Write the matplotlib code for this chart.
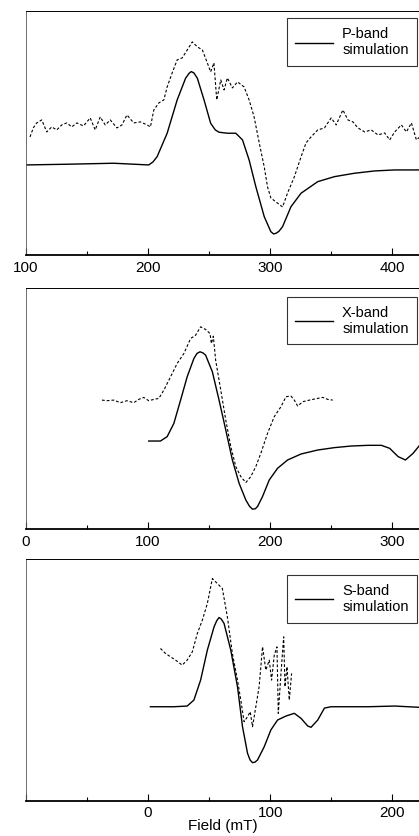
import matplotlib
matplotlib.use("Agg")
import matplotlib.pyplot as plt
from matplotlib.ticker import MultipleLocator, FuncFormatter

plt.rcParams["font.family"] = ["Liberation Sans", "DejaVu Sans"]

# P-band (field in mT, intensity in arbitrary units)
p_sim_field = [100.0, 133.4, 171.8, 200.5, 204, 207.4, 215.6, 223.8, 230.7, 233.5, 235.3, 237.5,
               240.3, 245.8, 251.2, 255, 258.1, 264.9, 271.8, 277.3, 282.7, 288.2, 295.1, 300.5,
               302.8, 304.7, 307, 310.1, 317.0, 325.2, 338.9, 352.6, 369.0, 385.5, 401.9, 422.5]
p_sim_int = [90, 90.7, 91.7, 90, 93, 98.3, 121.7, 155, 176.7, 181.5, 183.3, 182,
             176.7, 155, 131.7, 125, 122.7, 121.7, 121.7, 115, 95, 68.3, 38.3, 23.3,
             21, 21.7, 23.5, 28.3, 48.3, 61.7, 73.3, 78.3, 81.7, 84, 85, 85]
p_exp_field = [103.3, 106, 108.8, 112.9, 117, 121.1, 125.2, 129.3, 133.4, 137.5, 141.6, 147.1,
               152.6, 156.7, 160.8, 164.9, 169, 174.5, 178.6, 182.7, 188.2, 193.7, 199.2, 201.9,
               204.7, 208.8, 212.9, 215.6, 219.7, 223.8, 227.9, 232.1, 236.2, 240.3, 244.4, 248.5,
               251.2, 253.9, 256.2, 259.5, 262.2, 264.9, 269, 273.2, 278.6, 282.7, 286.8, 291,
               295.1, 297.8, 300.5, 304.7, 310.1, 314.2, 319.7, 325.2, 329.3, 333.4, 338.9, 344.4,
               349.9, 354, 359.5, 363.6, 367.7, 371.8, 377.3, 382.7, 388.2, 393.7, 397.8, 401.9,
               407.4, 411.5, 415.6, 419.7, 422.5]
p_exp_int = [118, 127, 132, 135, 123, 128, 125, 130, 132, 128, 132, 129,
             137, 125, 138, 130, 135, 127, 130, 140, 132, 133, 130, 128,
             145, 152, 155, 168, 182, 195, 197, 205, 213, 208, 205, 192,
             183, 192, 155, 175, 165, 177, 167, 173, 168, 155, 138, 112,
             88, 68, 57, 53, 48, 62, 78, 98, 112, 118, 125, 127,
             137, 130, 145, 135, 133, 127, 123, 125, 120, 122, 115, 123,
             130, 123, 132, 115, 118]

# X-band
x_sim_field = [100.5, 110.1, 115.6, 121.1, 126.6, 132, 137.5, 140, 142.5, 145, 147.1, 152.6,
               158.1, 163.6, 169, 174.5, 180, 183, 185.5, 187.8, 189.6, 193.7, 199.2, 206,
               214.2, 225.2, 238.9, 252.6, 266.3, 280, 291, 297.8, 304.7, 310.7, 317, 322.5]
x_sim_int = [88.3, 88.3, 92.7, 106, 129.3, 152.7, 171, 176, 177.7, 176.5, 174.3, 157.7,
             129.3, 99.3, 69.3, 46, 29.3, 23, 20, 20.5, 22.7, 32.7, 49.3, 61,
             69.3, 75.3, 79.3, 81.7, 83.3, 84, 84, 81, 72.7, 69.3, 76, 84.3]
x_exp_field = [62.2, 66.3, 71.8, 77.3, 82.7, 88.2, 92.3, 96.4, 100.5, 104.7, 108.8, 112.9,
               118.4, 123.8, 129.3, 134.8, 138.9, 143, 147.1, 150.7, 151.8, 153.4, 155.3, 159.5,
               163.6, 167.7, 171.8, 175.9, 180, 184.1, 188.2, 192.3, 197.8, 203.3, 208.8, 212.9,
               217, 219.7, 222.5, 226.6, 232.1, 237.5, 243, 247.1, 251.2]
x_exp_int = [129.3, 128.7, 129.3, 126.7, 128.7, 126.7, 130, 132, 128.7, 130, 131, 139.3,
             152.7, 166, 176, 191, 194.3, 202.7, 200, 196, 186, 193.3, 169.3, 139.3,
             109.3, 82.7, 62.7, 52.7, 46.7, 52.7, 62.7, 76, 96, 112.7, 122.7, 132.7,
             133.3, 129.3, 123.3, 127.7, 129.3, 130.7, 132, 130, 129.3]

# S-band
s_sim_field = [1.9, 10.1, 21.1, 32, 37.5, 43, 48.5, 54, 56.2, 58.1, 60, 62.2,
               67.7, 73.2, 77.3, 81.4, 83.5, 85.5, 87.5, 89.6, 95.1, 100.5, 106, 112.9,
               119.7, 125.2, 130.7, 133.4, 138.9, 144.4, 149.9, 166.3, 180, 201.9, 222.5]
s_sim_int = [94.3, 94.3, 94.3, 95, 101, 121, 151, 174.3, 180.5, 183.7, 182, 177.7,
             151, 114.3, 74.3, 47.7, 41, 38.3, 38.8, 41, 54.3, 71, 81, 85,
             87.7, 82.7, 75, 73.7, 81, 93, 94.3, 94.3, 94.3, 95, 93.7]
s_exp_field = [10.1, 14.2, 18.4, 22.5, 27.9, 32, 36.2, 40.3, 44.4, 48.5, 52.6, 56.7,
               60.8, 64.9, 69, 73.2, 75.9, 78.6, 81.4, 83.6, 85.5, 88.2, 90.9, 93.7,
               96.4, 99.2, 101.1, 103.3, 105.5, 106.6, 108.8, 111, 112.1, 113.7, 115.6, 117.5]
s_exp_int = [152.7, 147.7, 144.3, 141, 136, 141, 149.3, 167.7, 181, 197.7, 222.7, 217.7,
             212.7, 184.3, 147.7, 121, 101, 79.3, 84.3, 89.3, 74.3, 94.3, 114.3, 154.3,
             131, 141, 121, 146, 154.3, 87.7, 127.7, 164.3, 114.3, 134.3, 101, 127.7]

panels = [
    dict(sim=(p_sim_field, p_sim_int), exp=(p_exp_field, p_exp_int), label="P-band\nsimulation",
         xlim=(100, 422.5), ylim=(0, 244), rect=(0.062, 0.695, 0.94, 0.292), leg=(0.996, 0.978)),
    dict(sim=(x_sim_field, x_sim_int), exp=(x_exp_field, x_exp_int), label="X-band\nsimulation",
         xlim=(0, 322.5), ylim=(0, 242), rect=(0.062, 0.367, 0.94, 0.289), leg=(0.996, 0.645)),
    dict(sim=(s_sim_field, s_sim_int), exp=(s_exp_field, s_exp_int), label="S-band\nsimulation",
         xlim=(-100, 222.5), ylim=(0, 242), rect=(0.062, 0.042, 0.94, 0.289), leg=(0.996, 0.312)),
]

fig = plt.figure(figsize=(4.19, 8.36), dpi=100)

for i, p in enumerate(panels):
    ax = fig.add_axes(p["rect"])
    ax.plot(*p["exp"], color="black", lw=0.8, ls=(0, (2.5, 1.8)))
    ax.plot(*p["sim"], color="black", lw=1.0, label=p["label"])
    ax.set_xlim(*p["xlim"])
    ax.set_ylim(*p["ylim"])
    ax.xaxis.set_major_locator(MultipleLocator(100))
    ax.xaxis.set_minor_locator(MultipleLocator(50))
    # the original leaves negative fields unlabelled
    ax.xaxis.set_major_formatter(FuncFormatter(lambda v, pos: "" if v < 0 else f"{v:.0f}"))
    ax.set_yticks([])
    ax.tick_params(axis="x", which="major", direction="in", length=5, width=0.8,
                   labelsize=11, pad=4)
    ax.tick_params(axis="x", which="minor", direction="in", length=3, width=0.8)
    ax.spines["right"].set_visible(False)
    ax.spines["bottom"].set_linewidth(1.3)
    ax.spines["left"].set_linewidth(0.6)
    ax.spines["left"].set_color("#555555")
    ax.spines["top"].set_linewidth(0.7)
    leg = ax.legend(loc="upper right", bbox_to_anchor=p["leg"], bbox_transform=fig.transFigure,
                    fontsize=10.5, frameon=True, fancybox=False, handlelength=2.6,
                    borderpad=0.6, handletextpad=0.6, labelspacing=0.2, borderaxespad=0)
    leg.get_frame().set_edgecolor("black")
    leg.get_frame().set_linewidth(0.8)
    if i == 2:
        ax.set_xlabel("Field (mT)", fontsize=11, labelpad=-1)

fig.savefig("out.png", dpi=100)
